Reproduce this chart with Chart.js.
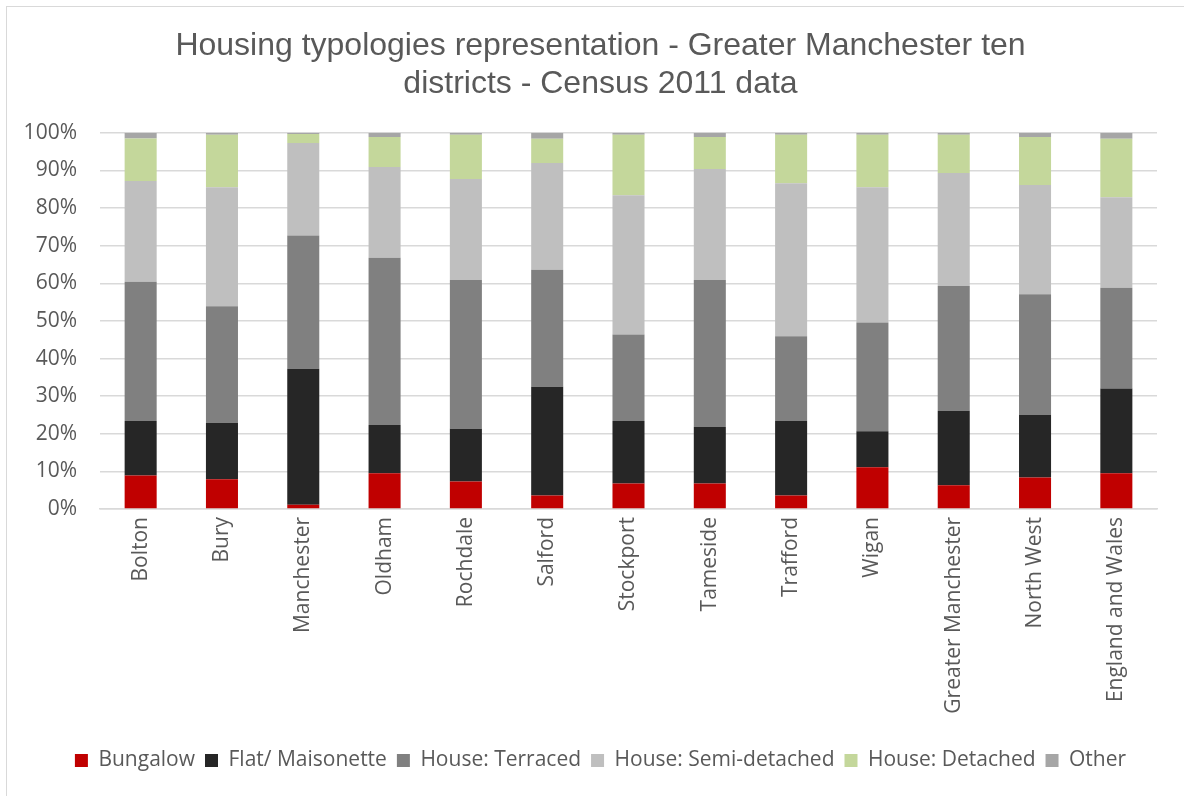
<!DOCTYPE html>
<html>
<head>
<meta charset="utf-8">
<title>Housing typologies - Greater Manchester</title>
<script src="https://cdn.jsdelivr.net/npm/chart.js@4.4.1/dist/chart.umd.min.js"></script>
<style>
  html, body { margin: 0; padding: 0; background: #fff; overflow: hidden; }
  #wrap { position: relative; width: 1184px; height: 796px; }
  #frame { position: absolute; left: 6px; top: 6px; width: 1200px; height: 820px; border: 1.5px solid #D9D9D9; pointer-events: none; }
  canvas { position: absolute; left: 0; top: 0; }
</style>
</head>
<body>
<div id="wrap">
  <div id="frame"></div>
  <canvas id="housingChart" width="1184" height="796"></canvas>
</div>
<script>
// Areas on the x axis
const AREAS = ['Bolton', 'Bury', 'Manchester', 'Oldham', 'Rochdale', 'Salford', 'Stockport',
  'Tameside', 'Trafford', 'Wigan', 'Greater Manchester', 'North West', 'England and Wales'];

// Share of dwellings by type (%)
const BUNGALOW   = [8.9, 7.9, 1.1, 9.5, 7.3, 3.6, 6.8, 6.8, 3.6, 11.1, 6.3, 8.4, 9.5];
const FLAT       = [14.5, 15.0, 36.2, 12.8, 14.0, 28.9, 16.6, 15.0, 19.8, 9.6, 19.8, 16.6, 22.5];
const TERRACED   = [37.0, 31.0, 35.4, 44.5, 39.6, 31.1, 23.0, 39.1, 22.5, 28.9, 33.2, 32.1, 26.8];
const SEMI       = [26.8, 31.6, 24.6, 24.1, 26.8, 28.4, 37.0, 29.5, 40.7, 35.9, 30.0, 29.0, 24.1];
const DETACHED   = [11.3, 14.0, 2.4, 8.0, 11.8, 6.4, 16.1, 8.5, 12.9, 14.0, 10.2, 12.8, 15.5];
const OTHER      = [1.5, 0.5, 0.3, 1.1, 0.5, 1.6, 0.5, 1.1, 0.5, 0.5, 0.5, 1.1, 1.6];

const Y_TICKS = [0, 10, 20, 30, 40, 50, 60, 70, 80, 90, 100];

const TEXT_GREY = '#595959';
const GRID_GREY = '#D9D9D9';
const LABEL_FONT = { family: "'Open Sans', sans-serif", size: 21 };

const series = [
  { label: 'Bungalow', data: BUNGALOW, color: '#C00000' },
  { label: 'Flat/ Maisonette', data: FLAT, color: '#262626' },
  { label: 'House: Terraced', data: TERRACED, color: '#808080' },
  { label: 'House: Semi-detached', data: SEMI, color: '#BFBFBF' },
  { label: 'House: Detached', data: DETACHED, color: '#C4D79B' },
  { label: 'Other', data: OTHER, color: '#A6A6A6' },
];

// title and legend sit a little right of the canvas centre in the original
const nudgeBoxes = {
  id: 'nudgeBoxes',
  afterLayout(chart) {
    [chart.titleBlock, chart.legend].forEach(b => {
      if (b) { b.left += 19; b.right += 19; }
    });
  }
};

new Chart(document.getElementById('housingChart'), {
  type: 'bar',
  data: {
    labels: AREAS,
    datasets: series.map(s => ({
      label: s.label,
      data: s.data,
      backgroundColor: s.color,
      borderWidth: 0,
      categoryPercentage: 1,
      barPercentage: 0.394,
    }))
  },
  options: {
    responsive: false,
    animation: false,
    devicePixelRatio: 1,
    layout: { padding: { left: 6, right: 27, top: 0, bottom: 15 } },
    plugins: {
      title: {
        display: true,
        text: ['Housing typologies representation - Greater Manchester ten', 'districts - Census 2011 data'],
        color: TEXT_GREY,
        font: { family: "'Liberation Sans', Arial, sans-serif", size: 32, weight: 'normal', lineHeight: 1.2 },
        padding: { top: 27, bottom: 29 }
      },
      legend: {
        position: 'bottom',
        labels: {
          color: TEXT_GREY,
          font: LABEL_FONT,
          boxWidth: 13,
          boxHeight: 13,
          padding: 10
        }
      },
      tooltip: { enabled: false }
    },
    scales: {
      x: {
        stacked: true,
        grid: { display: false, drawTicks: false },
        border: { color: GRID_GREY, width: 1.5 },
        ticks: {
          color: TEXT_GREY,
          font: LABEL_FONT,
          minRotation: 90,
          maxRotation: 90,
          padding: 8,
          autoSkip: false
        },
        afterFit: scale => { scale.height = 231; }
      },
      y: {
        stacked: true,
        min: 0,
        max: 100,
        afterBuildTicks: scale => { scale.ticks = Y_TICKS.map(v => ({ value: v })); },
        grid: { color: GRID_GREY, lineWidth: 1.5, drawTicks: false },
        border: { display: false },
        ticks: {
          color: TEXT_GREY,
          font: LABEL_FONT,
          padding: 23,
          callback: v => v + '%'
        },
        afterFit: scale => { scale.width = 94; }
      }
    }
  },
  plugins: [nudgeBoxes]
});
</script>
</body>
</html>
